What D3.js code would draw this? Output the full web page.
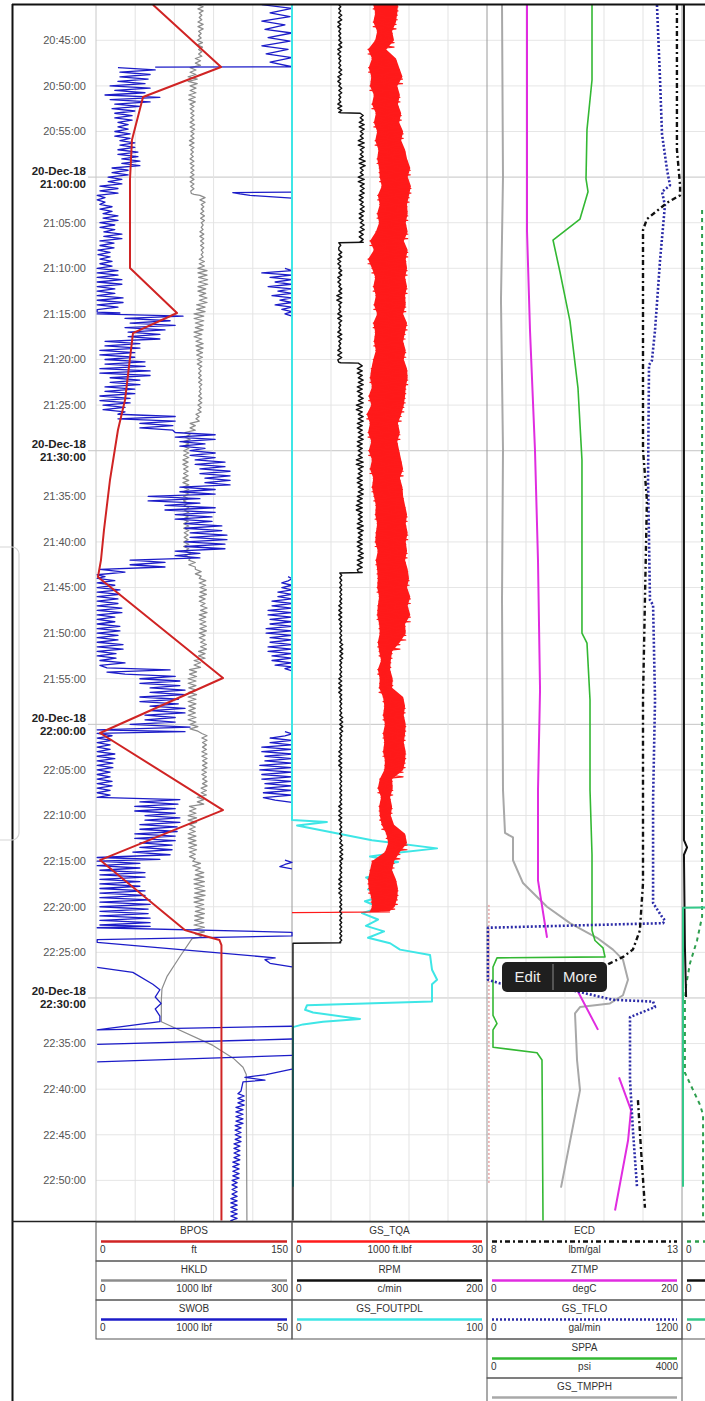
<!DOCTYPE html>
<html>
<head>
<meta charset="utf-8">
<script src="https://cdn.jsdelivr.net/npm/d3@7"></script>
<style>
  body { margin: 0; background: #fff; }
  svg { display: block; font-family: "Liberation Sans", Arial, sans-serif; }
</style>
</head>
<body>
<div id="chart"></div>
<script>
// all times are minutes after 20:40 on 20-Dec-18
var dateLabel = "20-Dec-18";
var timeTicks = ["20:45","20:50","20:55","21:00","21:05","21:10","21:15","21:20","21:25","21:30",
  "21:35","21:40","21:45","21:50","21:55","22:00","22:05","22:10","22:15","22:20","22:25","22:30",
  "22:35","22:40","22:45","22:50"];

// ---- track 1 ----
var bposPts = [[1.1,43.6],[7.93,95.7],[11.22,36],[15.93,27.5],[20.32,26],[29.97,26],[34.9,62],[37.1,28.3],
  [44.44,22.2],[47.73,16.8],[53.21,10.7],[58.7,6.1],[61.99,3.8],[63.85,1.5],[74.92,97.2],[80.95,3.1],
  [89.4,97.2],[94.88,3.1],[102.56,68],[103.2,83.4],[103.65,94.5],[104.2,96],[134.4,96]];

// [minute, low, high]
var hkldRows = [[1.1,156,164],[2,158,162],[3,156,164],[4,157,161],[5,155,163],[6,157,162],[7,152,160],
  [8,144,153],[9,141,155],[10,144,153],[11,142,152],[12,144,150],[13,145,150],[14,144,151],[15,145,150],
  [16,143,150],[17,145,149],[18,144,150],[19,145,150],[20,144,150],[21,145,150],[21.8,146,150],[22,159,167],
  [23,161,165],[24,160,166],[25,161,164],[26,159,165],[27,160,165],[28,161,164],[29,158,166],[30,156,170],
  [31,157,171],[32,156,168],[33,158,170],[34,154,167],[35,150,165],[36,152,164],[37,150,162],[38,153,164],
  [39,154,163],[40,155,162],[41,157,161],[42,157,162],[43,158,161],[44,157,162],[45,156,161],[46,153,158],
  [47,144,152],[48,136,144],[49,134,142],[50,134,142],[51,133,141],[52,134,141],[53,133,142],[54,133,142],
  [55,134,141],[56,135,142],[57,133,141],[58,134,142],[59,135,141],[60,134,142],[61,136,145],[62,142,152],
  [63,152,161],[64,158,168],[65,159,169],[66,158,167],[67,160,170],[68,158,168],[69,159,169],[70,158,167],
  [71,160,169],[72,157,167],[73,150,160],[74,143,154],[75,141,153],[76,142,154],[77,141,153],[78,142,152],
  [79,141,153],[80,144,156],[81,162,170],[82,163,169],[83,162,170],[84,163,170],[85,162,169],[86,163,170],
  [87,161,169],[88,155,165],[89,143,153],[90,141,154],[91,143,152],[92,141,153],[93,142,154],[94,143,152],
  [95,148,160],[96,152,165],[97,150,166],[98,151,167],[99,150,165],[100,152,166],[101,151,165],[102,150,166],
  [103,152,162],[103.4,156,156],[103.5,147,147],[105.4,129,129],[107.6,109,109],[109.0,101,101],
  [110.2,100,100],[112.6,100,100],[115.2,179,179],[116.6,210,210],[117.6,225,225],[118.4,230,230],[134.4,231,231]];

var swobRows = [[8,5.6,15.1],[8.5,6.1,13.8],[9,6.1,13.3],[9.5,5.6,12.5],[10,3.6,13.8],[10.5,4.8,12.5],
  [11,2.3,16.3],[11.5,3.6,13.8],[12,4.8,11.2],[12.5,4.1,9.9],[13,4.8,9.2],[14,5.6,8.2],[15,4.8,8.7],
  [16,6.1,9.9],[17,5.6,10.7],[18,6.6,11.2],[19,4.1,8.2],[20,3.1,6.6],[21,1.0,5.6],[22,0.3,2.3],[23,1.0,4.1],
  [24,1.8,5.6],[25,1.0,4.8],[26,2.0,6.6],[27,1.0,4.6],[28,0.5,3.6],[29,1.0,4.1],[30,0.3,5.6],[31,0.3,6.6],
  [32,0.3,4.8],[33,0.3,6.9],[34,0.3,5.6],[34.8,0.3,6.1],[35,0.3,22.2],[35.5,7.4,18.9],[36,8.7,20.2],
  [36.5,7.4,17.6],[37,8.2,16.3],[38,2.3,11.2],[39,1.0,9.9],[40,2.3,12.5],[41,1.0,13.8],[42,3.6,11.2],
  [43,2.3,9.9],[44,1.0,8.7],[45,1.8,7.4],[46,5.6,20.2],[47,11.2,19.6],[48,20.2,30.4],[49,21.4,27.8],
  [50,24.0,30.4],[51,25.3,32.9],[52,26.5,34.2],[53,27.8,34.2],[54,21.4,30.4],[55,13.3,26.5],[56,17.6,30.4],
  [57,20.2,29.6],[58,22.7,32.1],[59,24.0,33.4],[60,22.7,32.9],[61,20.2,26.5],[62,8.7,17.6],[63,1.0,7.4],
  [63.6,0.3,2.3],[64,0.3,4.8],[65,0.3,6.1],[66,0.3,5.6],[67,0.3,6.6],[68,0.3,4.8],[69,0.3,6.1],[70,0.3,5.6],
  [71,0.3,6.9],[72,0.3,5.1],[73,1.0,7.4],[73.8,2.8,18.9],[74.5,7.4,20.2],[75,11.2,21.4],[76,13.8,22.7],
  [77,11.2,21.0],[78,13.8,22.7],[79,12.5,20.2],[80,8.7,24.0],[80.6,0.3,22.7],[81,0.3,4.1],[82,0.3,3.6],
  [83,0.3,4.8],[84,0.3,4.3],[85,0.3,3.6],[86,0.3,4.1],[87,0.3,3.6],[88,0.3,21.4],[88.5,11.2,20.9],
  [89,9.9,20.2],[90,12.5,21.4],[91,11.2,20.7],[92,9.9,20.2],[93,11.2,19.4],[94,9.4,18.9],[94.6,0.3,16.3],
  [95,0.3,11.2],[96,1.0,12.5],[97,1.0,11.2],[98,1.0,12.5],[99,1.0,13.8],[100,1.0,13.3],[101,1.0,13.8],
  [102,1.0,13.8],[102.3,0.3,0.3],[102.8,50,50],[103.2,50,50],[103.6,0.3,0.3],[103.9,0.3,0.3],
  [105.6,45.7,45.7],[105.8,43.1,43.1],[106.2,44.4,44.4],[106.6,50,50],null,
  [106.65,0.3,0.3],[107.2,9.4,9.4],[108.5,14.5,14.5],[109.1,16.3,16.3],[109.9,15.1,15.1],[110.6,16.6,16.6],
  [111.2,15.1,15.1],[112.0,16.3,16.3],[112.6,16.3,16.3],[113.5,0.3,0.3],[113.1,50,50],null,
  [115.1,0.3,0.3],[114.5,50,50],null,
  [117.0,0.3,0.3],[116.3,50,50],null,
  [117.8,50,50],[118.4,43.4,43.4],[118.7,38.0,38.0],[119.0,43.1,43.1],[119.2,37.5,37.5],[120.2,37.0,37.0],
  [120.5,36.2,37.8],[122,35.7,37.5],[124,35.5,37.0],[126,35.2,36.7],[128,34.9,36.5],[130,34.7,36.0],
  [132,34.4,36.0],[134.4,34.4,35.7]];

// SWOB drawn on its wrapped (backup) scale at the right of the track
var swobWrapRows = [[1.1,42.3,42.3],[1.5,50,50],[2.0,44.4,44.4],[2.4,49.5,49.5],[2.9,42.3,42.3],
  [3.3,48.2,48.2],[3.8,43.1,43.1],[4.2,50,50],[4.7,43.9,43.9],[5.1,49.5,49.5],[5.6,42.3,42.3],[6.0,49.0,49.0],
  [6.5,43.4,43.4],[6.9,50,50],[7.4,44.4,44.4],[7.9,50,50],[7.95,15.1,15.1],null,
  [21.65,50,50],[21.7,34.9,34.9],[21.85,36.7,36.7],[22.0,39.3,39.3],[22.3,50,50],null,
  [30,48.2,50],[30.5,42.3,50],[31,44.4,50],[31.5,45.7,50],[32,43.9,50],[32.5,46.4,50],[33,44.9,50],
  [33.5,46.9,50],[34,45.7,50],[34.5,47.4,50],[35,48.2,50],null,
  [63.8,49.0,50],[64.5,47.4,50],[65.5,46.4,50],[66.5,44.9,50],[67.5,43.9,50],[68.5,44.4,50],[69.5,43.4,50],
  [70.5,44.4,50],[71.5,43.9,50],[72.5,44.9,50],[73.5,45.7,50],[73.9,48.2,50],null,
  [80.8,48.2,50],[81.5,44.4,50],[82.5,42.3,50],[83.5,43.1,50],[84.5,41.8,50],[85.5,42.3,50],[86.5,43.1,50],
  [87.5,42.7,50],[88.3,45.7,50],null,
  [94.9,48.2,50],[95.6,46.9,50]];

// ---- track 2 ----
var tqaRows = [[1.1,12.5,16.3],[2,12.8,16.2],[3,12.5,16.0],[4,13.1,15.4],[5,12.8,15.7],[6,11.7,14.5],
  [7,12.3,16.0],[8,11.8,16.5],[9,12.2,17.0],[10,12.0,16.2],[11,12.6,16.6],[12,12.3,16.3],[13,12.9,16.8],
  [14,12.6,16.5],[15,13.1,17.1],[16,12.8,16.8],[17,13.3,17.4],[18,13.1,17.7],[19,13.4,18.2],[20,13.5,17.8],
  [21,13.8,18.3],[22,13.2,18.0],[23,13.5,17.7],[24,13.1,17.8],[25,13.4,17.5],[26,12.9,17.8],[27,12.0,17.2],
  [28,12.6,17.8],[29,11.7,17.5],[30,12.3,17.7],[31,12.8,17.4],[32,12.5,17.7],[33,12.9,17.4],[34,12.6,17.5],
  [35,13.1,17.1],[36,12.5,17.7],[37,12.8,17.4],[38,12.6,17.1],[39,12.9,17.5],[40,12.5,17.2],[41,12.2,17.7],
  [42,12.0,17.8],[43,12.3,17.5],[44,11.8,17.4],[45,12.2,17.2],[46,11.5,16.8],[47,12.0,16.3],[48,11.7,16.6],
  [49,12.2,16.2],[50,11.8,16.5],[51,12.3,16.8],[52,12.0,17.1],[53,12.5,16.6],[54,12.3,17.0],[55,12.6,17.1],
  [56,12.9,17.4],[57,12.8,17.7],[58,13.1,17.5],[59,12.9,17.8],[60,12.8,17.5],[61,13.2,17.7],[62,12.9,17.4],
  [63,13.1,17.8],[64,13.2,18.0],[65,13.1,17.7],[66,13.4,18.2],[67,13.2,17.8],[68,13.1,18.2],[69,13.4,17.4],
  [70,13.5,17.5],[71,13.2,16.6],[72,13.4,15.4],[73,13.7,15.2],[74,13.2,15.1],[75,13.5,15.5],[76,13.4,15.4],
  [77,14.0,17.1],[78,14.2,17.4],[79,14.0,17.2],[80,14.3,17.5],[81,14.0,17.4],[82,14.2,17.2],[83,14.0,17.5],
  [84,14.3,17.4],[85,14.2,17.1],[86,13.5,15.4],[87,13.2,15.5],[88,13.7,15.1],[89,13.4,15.4],[90,13.5,15.2],
  [91,13.8,15.7],[92,14.5,17.4],[93,14.8,17.7],[94,14.3,16.6],[95,12.3,15.7],[96,12.0,15.4],[97,11.7,16.0],
  [98,11.8,16.3],[99,12.2,16.2],[100,12.3,15.8],[100.5,12.0,15.0],[100.65,0,0]];

var rpmRows = [[1.1,48,50],[2,48,51],[3,47,50],[4,48,50],[5,48,51],[6,47,50],[7,48,50],[8,48,51],[9,47,50],
  [10,48,51],[11,48,50],[12,47,51],[12.9,48,50],[13.0,70,73],[14,69,74],[15,70,73],[16,68,74],[17,70,73],
  [18,69,75],[19,70,73],[20,68,74],[21,70,74],[22,69,73],[23,70,74],[24,69,73],[25,70,74],[26,69,73],
  [27.1,70,73],[27.2,48,50],[28,48,51],[29,47,50],[30,48,51],[31,47,50],[32,48,51],[33,46,51],[34,48,50],
  [35,47,51],[36,48,50],[37,47,51],[38,48,50],[39,47,51],[40.3,48,50],[40.4,68,72],[41,67,72],[42,68,73],
  [43,67,72],[44,68,73],[45,66,72],[46,68,73],[47,67,72],[48,68,73],[49,67,72],[50,68,72],[51,66,73],
  [52,68,72],[53,67,72],[54,68,73],[55,67,72],[56,66,72],[57,68,72],[58,67,73],[59,68,72],[60,67,72],
  [61,68,73],[62,67,72],[63.3,68,72],[63.4,49,51],[65,49,51],[67,48,51],[69,49,51],[71,49,52],[73,49,51],
  [75,48,51],[77,49,51],[79,49,52],[81,49,51],[83,48,51],[85,49,51],[87,49,51],[89,48,51],[91,49,51],
  [93,49,52],[95,49,51],[97,48,51],[99,49,51],[101,49,51],[103.9,49,50],[104.0,1,1],[134.4,1,1]];

var foutPts = [[1.13,0],[90.5,0],[90.7,17.9],[91.1,2.6],[92.7,41],[93.6,74.4],[94.1,52.8],[94.5,40],
  [95.1,54.4],[95.6,41],[96.2,51.3],[96.8,38],[97.5,48.2],[98.1,39],[98.8,47.2],[99.4,37.4],[100.1,45.1],
  [100.7,35.9],[101.4,44.1],[102.1,37.9],[102.7,47.2],[103.4,39],[104,50.3],[104.7,55.4],[105.3,70.8],
  [106.9,71.8],[108,74.4],[108.5,71.8],[110.4,71.8],[110.8,7.7],[111.3,6.7],[111.6,10.8],[112.3,34.9],
  [112.6,15.9],[112.9,5.6],[113.2,0.5],[130.7,0.5]];

// ---- track 3 ----
var ecdPts = [[1.13,12.87],[17.0,12.87],[20.9,12.95],[22.0,12.95],[22.8,12.62],[24.6,12.1],[25.8,12.0],
  [49.9,12.0],[55.4,12.1],[77.3,12.0],[97.4,12.0],[102.6,11.92],[104.7,11.74],[105.5,11.49],[106.2,11.15],
  [106.6,11.0],null,[121.2,11.87],[126.7,11.95],[133.0,12.05]];
var ztmpPts = [[1.13,41],[25.8,41],[36.8,44.1],[49.9,49.2],[62,52.3],[76.2,54.4],[87.2,52.3],[97.1,52.3],
  [103.4,61.6],null,[109.1,92.3],[113.5,113.9],null,[118.7,135.4],[122.3,147.7],[125.6,144.7],[133.3,131.3]];
var tfloPts = [[1.13,1046],[9.35,1065],[15.3,1077],[19.2,1108],[20.9,1126],[21.6,1077],[23.1,1095],
  [29.1,1065],[36.8,1034],[40.1,1015],[40.6,997],[53.2,991],[66.4,1003],[66.9,1022],[77.3,1034],[88.3,1022],
  [99.6,1022],[101.1,1077],[101.5,1095],[101.8,1083],[102.3,6],[108.0,6],[108.4,80],[109.1,511],[110.2,775],
  [110.4,1022],[111.0,1034],[112.1,880],[119.0,880],[124.5,898],[130.7,923]];
var sppaPts = [[1.13,2154],[9.35,2154],[14.8,2051],[20.2,2031],[21.6,2072],[24.6,1907],[26.9,1354],
  [30.4,1497],[35.8,1702],[43.1,1866],[51.0,1948],[70.0,1948],[71.1,2051],[77.3,2113],[87.2,2113],
  [94.3,2154],[102.6,2154],[103.7,2215],[104.5,2379],[105.5,2420],[105.6,205],[106.6,123],[111.9,123],
  [112.8,205],[113.5,123],[115.4,123],[116.0,1026],[116.8,1128],[134.4,1149]];
var tmpphPts = [[1.13,23.1],[20,24.6],[33.5,21.5],[49.9,24.6],[66.4,23.1],[87.2,24.6],[91.9,27.7],
  [92.4,40],[94.9,40],[97.4,55.4],[100.0,92.3],[101.8,127.7],[103.4,169.2],[104.7,193.8],[105.8,209.2],
  [108.0,216.9],[109.7,209.2],[110.6,189.2],[111.0,143.1],[111.7,135.4],[116.8,138.5],[120.1,143.1],
  [130.8,113.8]];
var trk3RedPts = [[99.8,1],[130.4,1]];

// ---- track 4 (mostly off screen) ----
var t4GreenPts = [[23.6,10.3],[101.1,10.3],[103.7,7.7],[106.2,4.1],[108.6,2.1],[110.2,1.5],[118.2,1.5],
  [121.7,9.2],[122.8,10.8],[134.4,10.8]];
var t4BlackPts = [[1.13,1.0],[92.7,1.0],[93.5,2.6],[94.3,1.0],[104.4,1.5],[109.9,2.1]];
var t4TealPts = [[1.13,40],[100.0,40],[100.1,0.5],[130.7,0.5]];

var W = 705, H = 1401;
var plotTop = 5, plotBottom = 1221;
var tracks = [{x: 96, w: 196}, {x: 292, w: 195}, {x: 487, w: 195}, {x: 682, w: 195}];

var curves = [
  {name: "BPOS", unit: "ft", min: 0, max: 150, track: 0, row: 0, color: "#d02424", width: 2, pts: bposPts},
  {name: "HKLD", unit: "1000 lbf", min: 0, max: 300, track: 0, row: 1, color: "#8c8c8c", width: 1.2, rows: hkldRows},
  {name: "SWOB", unit: "1000 lbf", min: 0, max: 50, track: 0, row: 2, color: "#1c1cc8", width: 1.3, rows: swobRows},
  {name: "GS_TQA", unit: "1000 ft.lbf", min: 0, max: 30, track: 1, row: 0, color: "#ff1a1a", width: 1.2, band: tqaRows},
  {name: "RPM", unit: "c/min", min: 0, max: 200, track: 1, row: 1, color: "#111", width: 1.4, rows: rpmRows},
  {name: "GS_FOUTPDL", unit: "", min: 0, max: 100, track: 1, row: 2, color: "#3ee6e6", width: 2, pts: foutPts},
  {name: "ECD", unit: "lbm/gal", min: 8, max: 13, track: 2, row: 0, color: "#111", width: 2.4, dash: "5,3,2,3", pts: ecdPts},
  {name: "ZTMP", unit: "degC", min: 0, max: 200, track: 2, row: 1, color: "#e02ce0", width: 2, pts: ztmpPts},
  {name: "GS_TFLO", unit: "gal/min", min: 0, max: 1200, track: 2, row: 2, color: "#2b2ba8", width: 2.6, dash: "2,2", pts: tfloPts},
  {name: "SPPA", unit: "psi", min: 0, max: 4000, track: 2, row: 3, color: "#33b833", width: 1.6, pts: sppaPts},
  {name: "GS_TMPPH", unit: "degC", min: 0, max: 300, track: 2, row: 4, color: "#a8a8a8", width: 2, pts: tmpphPts},
  {name: "", unit: "", min: 0, max: 100, track: 3, row: 0, color: "#2e9e4e", width: 2, dash: "4,4", pts: t4GreenPts},
  {name: "", unit: "", min: 0, max: 100, track: 3, row: 1, color: "#111", width: 2, pts: t4BlackPts},
  {name: "", unit: "", min: 0, max: 100, track: 3, row: 2, color: "#35c98a", width: 2, pts: t4TealPts}
];

var base = new Date(2018, 11, 20, 20, 40);
function T(m) { return new Date(+base + m * 60000); }

var svg = d3.select("#chart").append("svg")
    .attr("width", W)
    .attr("height", H);

var y = d3.scaleTime()
    .domain([T(1.13), T(134.4)])
    .range([plotTop, 1220.5]);

var tickDates = timeTicks.map(function(s) {
  var p = s.split(":");
  return new Date(2018, 11, 20, +p[0], +p[1]);
});

function xScale(c) {
  var t = tracks[c.track];
  return d3.scaleLinear().domain([c.min, c.max]).range([t.x, t.x + t.w]);
}

// min/max rows rendered as a dense trace that swings between the two readings
function zigzag(rows) {
  var out = [];
  rows.forEach(function(r, i) {
    if (!r) { out.push(null); return; }
    if (r[1] === r[2]) { out.push([r[0], r[1]]); return; }
    var nx = rows[i + 1];
    var gap = nx ? nx[0] - r[0] : 0.5;
    var n = Math.max(2, Math.round(gap / 0.25));
    for (var k = 0; k < n; k++) out.push([r[0] + gap * k / n, k % 2 ? r[2] : r[1]]);
  });
  return out;
}

// ---- grid ----
var grid = svg.append("g");
tickDates.forEach(function(d) {
  var major = d.getMinutes() % 30 === 0;
  grid.append("line")
      .attr("x1", major ? 88 : 96).attr("x2", W)
      .attr("y1", y(d)).attr("y2", y(d))
      .attr("stroke", major ? "#c4c4c4" : "#e6e6e6")
      .attr("stroke-width", 1);
});
tracks.forEach(function(t) {
  d3.range(1, 5).forEach(function(k) {
    grid.append("line")
        .attr("x1", t.x + t.w * k / 5).attr("x2", t.x + t.w * k / 5)
        .attr("y1", plotTop).attr("y2", plotBottom)
        .attr("stroke", "#e3e3e3");
  });
  grid.append("line")
      .attr("x1", t.x).attr("x2", t.x)
      .attr("y1", plotTop).attr("y2", plotBottom)
      .attr("stroke", t.x === 96 ? "#c8c8c8" : "#9a9a9a");
});

// ---- time labels ----
var labels = svg.append("g").attr("text-anchor", "end");
tickDates.forEach(function(d, i) {
  var major = d.getMinutes() % 30 === 0;
  if (major) {
    labels.append("text").attr("x", 86).attr("y", y(d) - 6.5).attr("dy", "0.35em")
        .attr("font-size", 11.5).attr("font-weight", "bold").attr("fill", "#222").text(dateLabel);
    labels.append("text").attr("x", 86).attr("y", y(d) + 6.5).attr("dy", "0.35em")
        .attr("font-size", 11.5).attr("font-weight", "bold").attr("fill", "#222").text(timeTicks[i] + ":00");
  } else {
    labels.append("text").attr("x", 86).attr("y", y(d)).attr("dy", "0.35em")
        .attr("font-size", 11).attr("fill", "#555").text(timeTicks[i] + ":00");
  }
});

// ---- curves ----
var defs = svg.append("defs");
tracks.forEach(function(t, i) {
  defs.append("clipPath").attr("id", "clip" + i)
    .append("rect").attr("x", t.x - 1.5).attr("y", plotTop).attr("width", t.w + 3).attr("height", plotBottom - plotTop);
});

var trackG = tracks.map(function(t, i) {
  return svg.append("g").attr("clip-path", "url(#clip" + i + ")");
});

function drawPath(c, pts) {
  var sx = xScale(c);
  trackG[c.track].append("path")
      .datum(pts)
      .attr("fill", "none")
      .attr("stroke", c.color)
      .attr("stroke-width", c.width)
      .attr("stroke-dasharray", c.dash || null)
      .attr("stroke-linejoin", "round")
      .attr("d", d3.line()
          .defined(function(d) { return d !== null; })
          .x(function(d) { return sx(d[1]); })
          .y(function(d) { return y(T(d[0])); }));
}

function drawCurve(c) {
  if (c.pts) drawPath(c, c.pts);
  if (c.rows) drawPath(c, zigzag(c.rows));
  if (c.band) {
    // a very noisy trace: solid between its min and max, with the trace on top
    var sx = xScale(c);
    trackG[c.track].append("path")
        .datum(c.band)
        .attr("fill", c.color)
        .attr("d", d3.area()
            .y(function(d) { return y(T(d[0])); })
            .x0(function(d) { return sx(d[1]); })
            .x1(function(d) { return sx(d[2]); }));
    drawPath(c, zigzag(c.band));
  }
}

var byName = function(n) { return curves.filter(function(c) { return c.name === n; })[0]; };
// draw order per track
drawCurve(byName("HKLD"));
drawCurve(byName("SWOB"));
drawPath(byName("SWOB"), zigzag(swobWrapRows));
drawCurve(byName("BPOS"));
drawCurve(byName("GS_FOUTPDL"));
drawCurve(byName("GS_TQA"));
drawCurve(byName("RPM"));
drawPath({track: 2, min: 0, max: 100, color: "#d77", width: 1, dash: "2,2"}, trk3RedPts);
drawCurve(byName("GS_TMPPH"));
drawCurve(byName("ZTMP"));
drawCurve(byName("SPPA"));
drawCurve(byName("GS_TFLO"));
drawCurve(byName("ECD"));
curves.filter(function(c) { return c.track === 3; }).forEach(drawCurve);

// ---- frame ----
svg.append("line").attr("x1", 12.5).attr("x2", 12.5).attr("y1", 4).attr("y2", H).attr("stroke", "#111").attr("stroke-width", 2);
svg.append("line").attr("x1", 12).attr("x2", W).attr("y1", 4.5).attr("y2", 4.5).attr("stroke", "#111").attr("stroke-width", 2);
svg.append("line").attr("x1", 12).attr("x2", W).attr("y1", 1221.5).attr("y2", 1221.5).attr("stroke", "#222").attr("stroke-width", 1.5);
// faint scroll handle at the left edge
svg.append("rect").attr("x", -12).attr("y", 547).attr("width", 31).attr("height", 293).attr("rx", 7)
    .attr("fill", "none").attr("stroke", "#d6d6d6").attr("stroke-width", 1.2);

// ---- header ----
var rowH = 39, hdrTop = 1222;
var hdr = svg.append("g").attr("font-size", 10).attr("fill", "#333");
curves.forEach(function(c) {
  var t = tracks[c.track], top = hdrTop + c.row * rowH;
  hdr.append("rect").attr("x", t.x).attr("y", top).attr("width", t.w).attr("height", rowH)
      .attr("fill", "none").attr("stroke", "#555").attr("stroke-width", 1);
  hdr.append("line").attr("x1", t.x + 5).attr("x2", t.x + t.w - 5).attr("y1", top + 19.5).attr("y2", top + 19.5)
      .attr("stroke", c.color).attr("stroke-width", 2.5).attr("stroke-dasharray", c.dash || null);
  // labels that fall inside the page width (the last row runs off the bottom, as on the screen)
  [[t.x + t.w / 2, 12, "middle", c.name], [t.x + 4, 31, "start", c.min],
   [t.x + t.w / 2, 31, "middle", c.unit], [t.x + t.w - 4, 31, "end", c.max]].forEach(function(l) {
    if (l[3] === "" || l[0] > W - 10) return;
    hdr.append("text").attr("x", l[0]).attr("y", top + l[1]).attr("text-anchor", l[2]).text(l[3]);
  });
});

// ---- popup left on the chart ----
var pop = svg.append("g").attr("transform", "translate(502,962)");
pop.append("rect").attr("width", 105).attr("height", 30).attr("rx", 5).attr("fill", "#1f1f1f");
pop.append("line").attr("x1", 51).attr("x2", 51).attr("y1", 2).attr("y2", 28).attr("stroke", "#8a8a8a");
pop.append("text").attr("x", 25.5).attr("y", 20).attr("text-anchor", "middle").attr("font-size", 15).attr("fill", "#eee").text("Edit");
pop.append("text").attr("x", 78).attr("y", 20).attr("text-anchor", "middle").attr("font-size", 15).attr("fill", "#eee").text("More");
</script>
</body>
</html>
